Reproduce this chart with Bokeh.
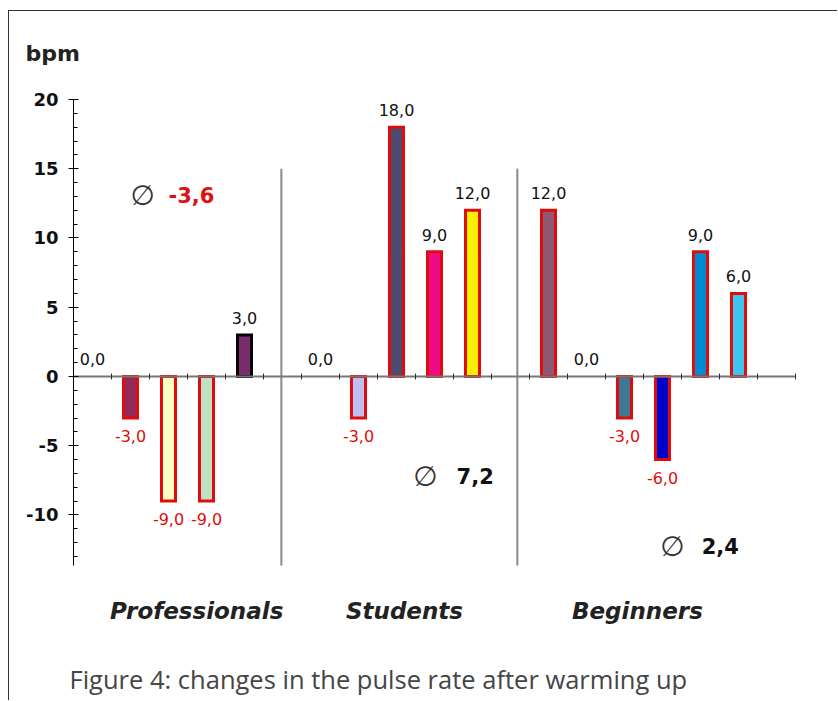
from bokeh.plotting import figure
from bokeh.models import (ColumnDataSource, LinearAxis, FixedTicker,
                          SingleIntervalTicker, Range1d)
from bokeh.core.properties import value
from bokeh.embed import file_html
from bokeh.resources import INLINE

# ---------------- data ----------------
groups = ["Professionals", "Students", "Beginners"]
prof_values = [0, -3, -9, -9, 3]
stud_values = [0, -3, 18, 9, 12]
beg_values = [12, 0, -3, -6, 9, 6]
prof_colors = ["#FFFFFF", "#922B5B", "#FFFFC4", "#C2E0C4", "#7A2C6C"]
stud_colors = ["#FFFFFF", "#BEBEF0", "#4E4B70", "#EE0C84", "#F8F000"]
beg_colors = ["#8D5872", "#FFFFFF", "#3D7894", "#0000CC", "#008BD3", "#3BC5F0"]
prof_edges = ["#E00C0C", "#E00C0C", "#E00C0C", "#E00C0C", "#000000"]
stud_edges = ["#E00C0C"] * 5
beg_edges = ["#E00C0C"] * 6
mean_labels = ["-3,6", "7,2", "2,4"]
mean_colors = ["#E01010", "#111111", "#111111"]
y_ticks = [-10, -5, 0, 5, 10, 15, 20]
y_tick_labels = ["-10", "-5", "0", "5", "10", "15", "20"]
y_label = "bpm"
caption = "Figure 4: changes in the pulse rate after warming up"

FONT = "DejaVu Sans"
RED = "#E00C0C"

# slot layout on a continuous axis (one slot per bar)
group_start = [0, 6, 12]
all_values = [prof_values, stud_values, beg_values]
all_colors = [prof_colors, stud_colors, beg_colors]
all_edges = [prof_edges, stud_edges, beg_edges]

xs, vals, fills, edges = [], [], [], []
for start, v, c, e in zip(group_start, all_values, all_colors, all_edges):
    for i in range(len(v)):
        xs.append(start + i + 0.5)
        vals.append(v[i])
        fills.append(c[i])
        edges.append(e[i])

def fmt(v):
    return f"{v:.1f}".replace(".", ",")

labels = [fmt(v) for v in vals]

bars = ColumnDataSource(dict(
    x=[x for x, v in zip(xs, vals) if v != 0],
    top=[v for v in vals if v != 0],
    fill=[f for f, v in zip(fills, vals) if v != 0],
    edge=[e for e, v in zip(edges, vals) if v != 0],
))
pos_lab = ColumnDataSource(dict(
    x=[x for x, v in zip(xs, vals) if v >= 0],
    y=[v for v in vals if v >= 0],
    t=[l for l, v in zip(labels, vals) if v >= 0],
))
neg_lab = ColumnDataSource(dict(
    x=[x for x, v in zip(xs, vals) if v < 0],
    y=[v for v in vals if v < 0],
    t=[l for l, v in zip(labels, vals) if v < 0],
))

Y_MIN, Y_MAX = -13.65, 20

# ---------------- figure (frame fills the whole canvas) ----------------
p = figure(width=829, height=690, output_backend="svg", toolbar_location=None,
           x_range=Range1d(-1.6842, 20.1316), y_range=Range1d(-23.471, 26.355),
           x_axis_location=None, y_axis_location=None,
           min_border_left=0, min_border_right=0,
           min_border_top=0, min_border_bottom=0)
p.outline_line_color = None
p.xgrid.visible = False
p.ygrid.visible = False
p.background_fill_color = "white"
p.border_fill_color = "white"
p.title.visible = False
p.styles = {"margin-left": "8px", "margin-top": "10px",
            "border-left": "1px solid #333333", "border-top": "1px solid #333333"}

# y axis at x = 0
yax = LinearAxis(fixed_location=0, bounds=(Y_MIN, Y_MAX),
                 ticker=SingleIntervalTicker(interval=5, num_minor_ticks=5),
                 major_label_overrides={k: t for k, t in zip(y_ticks, y_tick_labels)})
yax.axis_line_color = "#000000"
yax.axis_line_width = 1
yax.major_tick_in = 5
yax.major_tick_out = 5
yax.minor_tick_in = 4
yax.minor_tick_out = 0
yax.major_tick_line_color = "#000000"
yax.minor_tick_line_color = "#000000"
yax.major_label_text_font = FONT
yax.major_label_text_font_size = "18px"
yax.major_label_text_font_style = "bold"
yax.major_label_text_color = "#111111"
yax.major_label_standoff = 10
p.add_layout(yax, "left")

# zero line with slot ticks
zax = LinearAxis(fixed_location=0, bounds=(0, 19),
                 ticker=FixedTicker(ticks=list(range(1, 20))))
zax.axis_line_color = "#777777"
zax.axis_line_width = 2
zax.major_tick_in = 3
zax.major_tick_out = 3
zax.major_tick_line_color = "#333333"
zax.minor_tick_line_color = None
zax.major_label_text_color = None
zax.major_label_text_font_size = "1px"
p.add_layout(zax, "below")

# separators
p.segment(x0=[5.47, 11.68], y0=[Y_MIN, Y_MIN], x1=[5.47, 11.68], y1=[15, 15],
          line_color="#888888", line_width=2)

# bars
p.vbar(x="x", top="top", bottom=0, width=0.37, source=bars,
       fill_color="fill", line_color="edge", line_width=3, line_join="miter")

# value labels
p.text(x="x", y="y", text="t", source=pos_lab, text_font=value(FONT),
       text_font_size="16px", text_color="#111111", text_align="center",
       text_baseline="alphabetic", y_offset=-17)
p.text(x="x", y="y", text="t", source=neg_lab, text_font=value(FONT),
       text_font_size="16px", text_color=RED, text_align="center",
       text_baseline="alphabetic", y_offset=18)

# means
p.text(x=[1.82, 9.26, 15.76], y=[13.07, -7.22, -12.27], text=["\u2205"] * 3,
       text_font=value(FONT), text_font_size="28px", text_color="#333333",
       text_align="center", text_baseline="middle")
p.text(x=[2.5, 10.08, 16.53], y=[13.07, -7.22, -12.27], text=mean_labels,
       text_font=value(FONT), text_font_size="21px", text_font_style="bold",
       text_color=mean_colors, text_align="left", text_baseline="middle")

# group names
p.text(x=[3.24, 8.71, 14.84], y=[-16.97] * 3, text=groups,
       text_font=value(FONT), text_font_size="23px",
       text_font_style="bold italic", text_color="#222222",
       text_align="center", text_baseline="middle")

# "bpm" and caption
p.text(x=[-1.263], y=[23.32], text=[y_label], text_font=value(FONT),
       text_font_size="22px", text_font_style="bold", text_color="#222222",
       text_align="left", text_baseline="middle")
p.text(x=[-0.105], y=[-21.85], text=[caption], text_font=value("Open Sans"),
       text_font_size="25.5px", text_color="#454545",
       text_align="left", text_baseline="middle")

open("out.html", "w").write(file_html(p, INLINE))
